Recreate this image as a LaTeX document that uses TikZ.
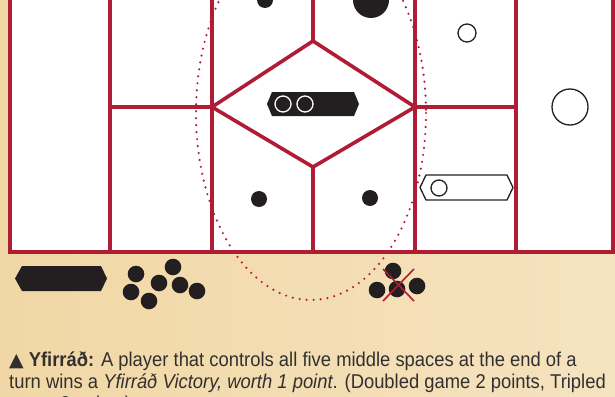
\documentclass[tikz,border=0pt]{standalone}
\usepackage{fontspec}
\setmainfont{Liberation Sans}[FakeStretch=0.92]
\newfontfamily\symfont{DejaVu Sans}
\usetikzlibrary{calc}
\definecolor{cBoard}{RGB}{176,28,52}
\definecolor{cInk}{RGB}{35,31,32}
\definecolor{cTanL}{RGB}{241,215,165}
\definecolor{cTanR}{RGB}{245,227,192}
\definecolor{cText}{RGB}{50,48,47}

\begin{document}
\begin{tikzpicture}[x=1pt, y=-1pt,
  wall/.style={cBoard, line width=3.6pt, line join=miter},
  stone/.style={fill=cInk},
  ring/.style={draw=cInk, line width=1.3pt, fill=white},
  rule/.style={anchor=base west, inner sep=0pt, text=cText, font=\fontsize{20}{23}\selectfont}]
\useasboundingbox (0,0) rectangle (615,396);
% background and board (its top runs off the page)
\shade[left color=cTanL, right color=cTanR] (0,0) rectangle (615,396);
\fill[white] (10,-10) rectangle (613,252);
\draw[wall] (10,-10) -- (10,252) -- (613,252) -- (613,-10);
\foreach \x in {110,212,415,516} { \draw[wall] (\x,-10) -- (\x,252); }
\draw[wall] (313,-10) -- (313,41);
\draw[wall] (313,167) -- (313,252);
\draw[wall] (110,107) -- (212,107);
\draw[wall] (415,107) -- (516,107);
\draw[wall] (212,107) -- (313,41) -- (415,107) -- (313,167) -- cycle;
% middle spaces
\draw[cBoard, line width=2.4pt, dash pattern=on 0pt off 7pt, line cap=round] (311,113) ellipse [x radius=115, y radius=187];
% stones on the board
\fill[stone] (265,0) circle (8);
\fill[stone] (371,0) circle (18);
\fill[stone] (259,199) circle (8);
\fill[stone] (370,198) circle (8);
\draw[ring] (467,33) circle (9);
\draw[ring] (570,107) circle (18);
% pieces
\fill[stone] (267,104) -- (272,92) -- (354,92) -- (359,104) -- (354,116) -- (272,116) -- cycle;
\draw[white, line width=1.3pt, fill=cInk] (283,104) circle (8);
\draw[white, line width=1.3pt, fill=cInk] (305,104) circle (8);
\draw[ring] (420,187.5) -- (426,175) -- (507,175) -- (513,187.5) -- (507,200) -- (426,200) -- cycle;
\draw[ring] (439,188) circle (8);
% off the board
\fill[stone] (15,278.5) -- (22,266) -- (101,266) -- (107,278.5) -- (101,291) -- (22,291) -- cycle;
\foreach \x/\y in {136/274, 173/267, 159/283, 180/285, 197/291, 131/292, 149/301} { \fill[stone] (\x,\y) circle (8.3); }
\foreach \x/\y in {393/271, 377/290, 397/289, 417/286} { \fill[stone] (\x,\y) circle (8.3); }
\draw[cBoard, line width=1.6pt] (383,269) -- (414,301) (414,269) -- (383,301);
% rule text
\node[rule] (rule1) at (9,366) {{\symfont\fontsize{19}{23}\selectfont ▲}\hspace{5pt}\textbf{Yfirráð:} A player that controls all five middle spaces at the end of a};
\node[rule] (rule2) at (9,388) {turn wins a \textit{Yfirráð Victory, worth 1 point}. (Doubled game 2 points, Tripled};
\node[rule] (rule3) at (9,410) {game 3 points).};
\end{tikzpicture}
\end{document}
